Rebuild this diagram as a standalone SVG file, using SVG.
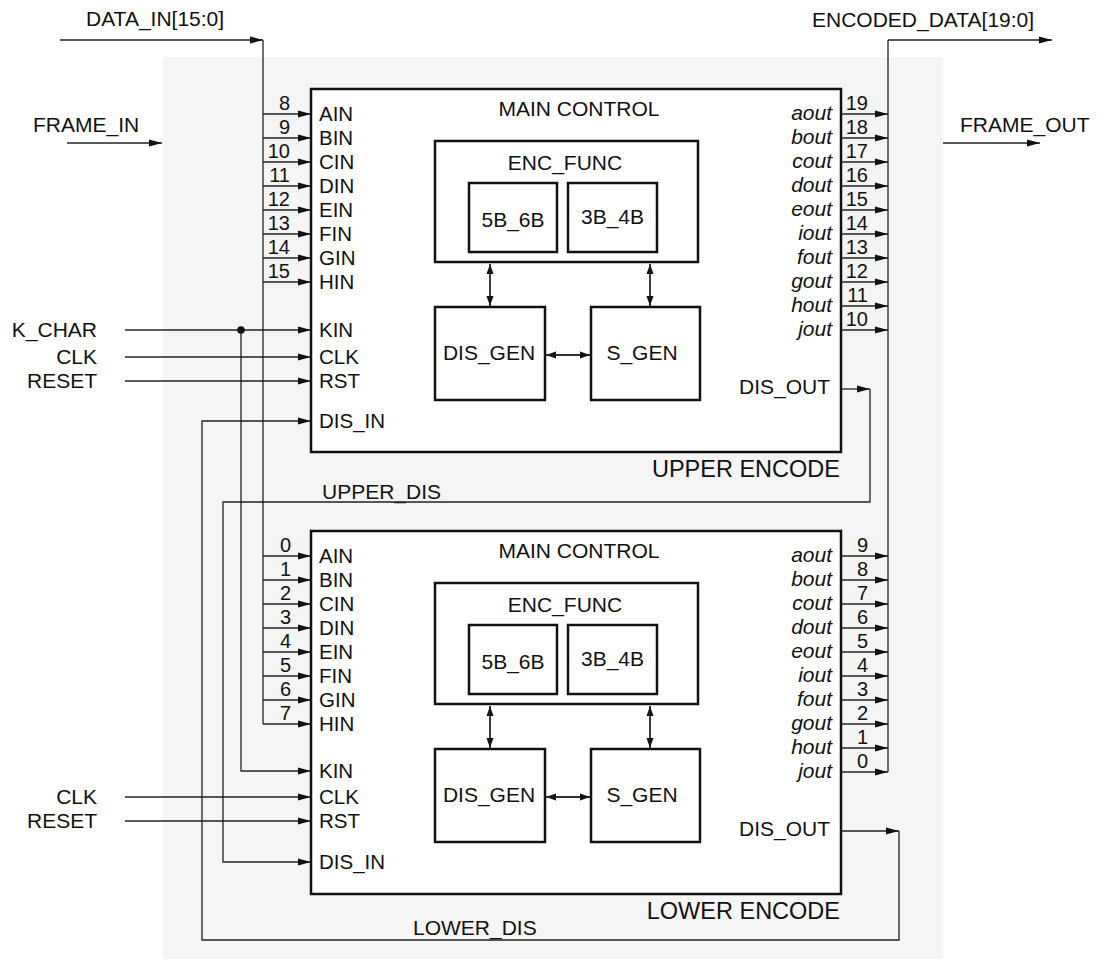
<svg xmlns="http://www.w3.org/2000/svg" width="1111" height="960" viewBox="0 0 1111 960">
<defs>
<style>
text{font-family:"Liberation Sans",Arial,sans-serif;font-size:21px;fill:#111}
.num{font-size:20px;text-anchor:end}
.pin{font-size:20.5px}
.out{font-size:21px;font-style:italic;text-anchor:end}
.mid{text-anchor:middle}
.end{text-anchor:end}
.big{font-size:23.5px;text-anchor:end}
.box{fill:#fff;stroke:#111;stroke-width:2.5}
.w{fill:none;stroke:#222;stroke-width:1.3}
.a{marker-end:url(#arr)}
.s{marker-end:url(#sm)}
</style>
<marker id="arr" markerUnits="userSpaceOnUse" markerWidth="14" markerHeight="8" refX="13" refY="4" orient="auto"><path d="M0,0.5 L13,4 L0,7.5 z" fill="#111"/></marker>
<marker id="sm" markerUnits="userSpaceOnUse" markerWidth="11" markerHeight="8" refX="10" refY="4" orient="auto"><path d="M0,0.5 L10,4 L0,7.5 z" fill="#111"/></marker>
</defs>
<rect x="163" y="57" width="780" height="902" fill="#f5f5f5"/>

<g id="external-labels">
<text x="86" y="26">DATA_IN[15:0]</text>
<text x="812" y="27">ENCODED_DATA[19:0]</text>
<text x="33" y="132">FRAME_IN</text>
<text x="960" y="132">FRAME_OUT</text>
<text class="end" x="97" y="337">K_CHAR</text>
<text class="end" x="97" y="364">CLK</text>
<text class="end" x="97" y="388">RESET</text>
<text class="end" x="97" y="804">CLK</text>
<text class="end" x="97" y="828">RESET</text>
<text x="322" y="499">UPPER_DIS</text>
<text x="413" y="935">LOWER_DIS</text>
</g>

<g id="upper-encode">
<rect class="box" x="311" y="89" width="530" height="363"/>
<text class="mid" x="579" y="116">MAIN CONTROL</text>
<text class="big" x="840" y="477">UPPER ENCODE</text>
<g class="pins">
<text class="pin" x="319" y="121">AIN</text>
<text class="pin" x="319" y="145">BIN</text>
<text class="pin" x="319" y="169">CIN</text>
<text class="pin" x="319" y="193">DIN</text>
<text class="pin" x="319" y="217">EIN</text>
<text class="pin" x="319" y="241">FIN</text>
<text class="pin" x="319" y="265">GIN</text>
<text class="pin" x="319" y="289">HIN</text>
<text class="pin" x="319" y="337">KIN</text>
<text class="pin" x="319" y="364">CLK</text>
<text class="pin" x="319" y="388">RST</text>
<text class="pin" x="319" y="428">DIS_IN</text>
<text class="end" x="830" y="394">DIS_OUT</text>
</g>
<g class="numbers">
<text class="num" x="290" y="110">8</text>
<text class="num" x="290" y="134">9</text>
<text class="num" x="290" y="158">10</text>
<text class="num" x="290" y="182">11</text>
<text class="num" x="290" y="206">12</text>
<text class="num" x="290" y="230">13</text>
<text class="num" x="290" y="254">14</text>
<text class="num" x="290" y="278">15</text>
<text class="num" x="868" y="110">19</text>
<text class="num" x="868" y="134">18</text>
<text class="num" x="868" y="158">17</text>
<text class="num" x="868" y="182">16</text>
<text class="num" x="868" y="206">15</text>
<text class="num" x="868" y="230">14</text>
<text class="num" x="868" y="254">13</text>
<text class="num" x="868" y="278">12</text>
<text class="num" x="868" y="302">11</text>
<text class="num" x="868" y="326">10</text>
</g>
<g class="outs">
<text class="out" x="832" y="120">aout</text>
<text class="out" x="832" y="144">bout</text>
<text class="out" x="832" y="168">cout</text>
<text class="out" x="832" y="192">dout</text>
<text class="out" x="832" y="216">eout</text>
<text class="out" x="832" y="240">iout</text>
<text class="out" x="832" y="264">fout</text>
<text class="out" x="832" y="288">gout</text>
<text class="out" x="832" y="312">hout</text>
<text class="out" x="832" y="336">jout</text>
</g>
</g>
<g id="upper-enc-func">
<rect class="box" x="435" y="141" width="263" height="121"/>
<text class="mid" x="565" y="170">ENC_FUNC</text>
</g>
<g id="upper-5b6b">
<rect class="box" x="469" y="183" width="88" height="69"/>
<text class="mid" x="513" y="227">5B_6B</text>
</g>
<g id="upper-3b4b">
<rect class="box" x="568" y="183" width="89" height="69"/>
<text class="mid" x="612.5" y="224">3B_4B</text>
</g>
<g id="upper-dis-gen">
<rect class="box" x="435" y="307" width="110" height="93"/>
<text class="mid" x="489" y="360">DIS_GEN</text>
</g>
<g id="upper-s-gen">
<rect class="box" x="591" y="307" width="109" height="93"/>
<text class="mid" x="642" y="360">S_GEN</text>
</g>

<g id="lower-encode">
<rect class="box" x="311" y="531" width="530" height="363"/>
<text class="mid" x="579" y="558">MAIN CONTROL</text>
<text class="big" x="840" y="919">LOWER ENCODE</text>
<g class="pins">
<text class="pin" x="319" y="563">AIN</text>
<text class="pin" x="319" y="587">BIN</text>
<text class="pin" x="319" y="611">CIN</text>
<text class="pin" x="319" y="635">DIN</text>
<text class="pin" x="319" y="659">EIN</text>
<text class="pin" x="319" y="683">FIN</text>
<text class="pin" x="319" y="707">GIN</text>
<text class="pin" x="319" y="731">HIN</text>
<text class="pin" x="319" y="778">KIN</text>
<text class="pin" x="319" y="804">CLK</text>
<text class="pin" x="319" y="828">RST</text>
<text class="pin" x="319" y="869">DIS_IN</text>
<text class="end" x="830" y="836">DIS_OUT</text>
</g>
<g class="numbers">
<text class="num" x="291" y="552">0</text>
<text class="num" x="291" y="576">1</text>
<text class="num" x="291" y="600">2</text>
<text class="num" x="291" y="624">3</text>
<text class="num" x="291" y="648">4</text>
<text class="num" x="291" y="672">5</text>
<text class="num" x="291" y="696">6</text>
<text class="num" x="291" y="720">7</text>
<text class="num" x="868" y="552">9</text>
<text class="num" x="868" y="576">8</text>
<text class="num" x="868" y="600">7</text>
<text class="num" x="868" y="624">6</text>
<text class="num" x="868" y="648">5</text>
<text class="num" x="868" y="672">4</text>
<text class="num" x="868" y="696">3</text>
<text class="num" x="868" y="720">2</text>
<text class="num" x="868" y="744">1</text>
<text class="num" x="868" y="768">0</text>
</g>
<g class="outs">
<text class="out" x="832" y="562">aout</text>
<text class="out" x="832" y="586">bout</text>
<text class="out" x="832" y="610">cout</text>
<text class="out" x="832" y="634">dout</text>
<text class="out" x="832" y="658">eout</text>
<text class="out" x="832" y="682">iout</text>
<text class="out" x="832" y="706">fout</text>
<text class="out" x="832" y="730">gout</text>
<text class="out" x="832" y="754">hout</text>
<text class="out" x="832" y="778">jout</text>
</g>
</g>
<g id="lower-enc-func">
<rect class="box" x="435" y="583" width="263" height="121"/>
<text class="mid" x="565" y="612">ENC_FUNC</text>
</g>
<g id="lower-5b6b">
<rect class="box" x="469" y="625" width="88" height="69"/>
<text class="mid" x="513" y="669">5B_6B</text>
</g>
<g id="lower-3b4b">
<rect class="box" x="568" y="625" width="89" height="69"/>
<text class="mid" x="612.5" y="666">3B_4B</text>
</g>
<g id="lower-dis-gen">
<rect class="box" x="435" y="749" width="110" height="93"/>
<text class="mid" x="489" y="802">DIS_GEN</text>
</g>
<g id="lower-s-gen">
<rect class="box" x="591" y="749" width="109" height="93"/>
<text class="mid" x="642" y="802">S_GEN</text>
</g>

<g id="connectors">
<path class="w a" d="M60,40 H263"/>
<path class="w" d="M263,40 V724"/>
<path class="w" d="M888,40 V772"/>
<path class="w a" d="M888,40 H1052"/>
<path class="w a" d="M67,143 H162"/>
<path class="w a" d="M943,143 H1040"/>
<!-- upper inputs -->
<path class="w a" d="M263,114 H311"/>
<path class="w a" d="M263,138 H311"/>
<path class="w a" d="M263,162 H311"/>
<path class="w a" d="M263,186 H311"/>
<path class="w a" d="M263,210 H311"/>
<path class="w a" d="M263,234 H311"/>
<path class="w a" d="M263,258 H311"/>
<path class="w a" d="M263,282 H311"/>
<!-- lower inputs -->
<path class="w a" d="M263,556 H311"/>
<path class="w a" d="M263,580 H311"/>
<path class="w a" d="M263,604 H311"/>
<path class="w a" d="M263,628 H311"/>
<path class="w a" d="M263,652 H311"/>
<path class="w a" d="M263,676 H311"/>
<path class="w a" d="M263,700 H311"/>
<path class="w a" d="M263,724 H311"/>
<!-- upper outputs -->
<path class="w a" d="M842,114 H888"/>
<path class="w a" d="M842,138 H888"/>
<path class="w a" d="M842,162 H888"/>
<path class="w a" d="M842,186 H888"/>
<path class="w a" d="M842,210 H888"/>
<path class="w a" d="M842,234 H888"/>
<path class="w a" d="M842,258 H888"/>
<path class="w a" d="M842,282 H888"/>
<path class="w a" d="M842,306 H888"/>
<path class="w a" d="M842,330 H888"/>
<!-- lower outputs -->
<path class="w a" d="M842,556 H888"/>
<path class="w a" d="M842,580 H888"/>
<path class="w a" d="M842,604 H888"/>
<path class="w a" d="M842,628 H888"/>
<path class="w a" d="M842,652 H888"/>
<path class="w a" d="M842,676 H888"/>
<path class="w a" d="M842,700 H888"/>
<path class="w a" d="M842,724 H888"/>
<path class="w a" d="M842,748 H888"/>
<path class="w a" d="M842,772 H888"/>
<!-- control -->
<path class="w a" d="M125,330 H311"/>
<circle cx="241" cy="330" r="3.8" fill="#111"/>
<path class="w a" d="M241,330 V771 H311"/>
<path class="w a" d="M125,357 H311"/>
<path class="w a" d="M125,381 H311"/>
<path class="w a" d="M125,797 H311"/>
<path class="w a" d="M125,821 H311"/>
<!-- disparity loops -->
<path class="w a" d="M842,389 H870"/>
<path class="w a" d="M870,389 V502 H223 V862 H311"/>
<path class="w a" d="M842,831 H899"/>
<path class="w a" d="M899,831 V940 H202 V421 H311"/>
<!-- inner double arrows -->
<path class="w s" d="M490,306 V264"/>
<path class="w s" d="M490,264 V306"/>
<path class="w s" d="M650,306 V264"/>
<path class="w s" d="M650,264 V306"/>
<path class="w s" d="M590,355 H546"/>
<path class="w s" d="M546,355 H590"/>
<path class="w s" d="M490,748 V706"/>
<path class="w s" d="M490,706 V748"/>
<path class="w s" d="M650,748 V706"/>
<path class="w s" d="M650,706 V748"/>
<path class="w s" d="M590,797 H546"/>
<path class="w s" d="M546,797 H590"/>
</g>
</svg>
